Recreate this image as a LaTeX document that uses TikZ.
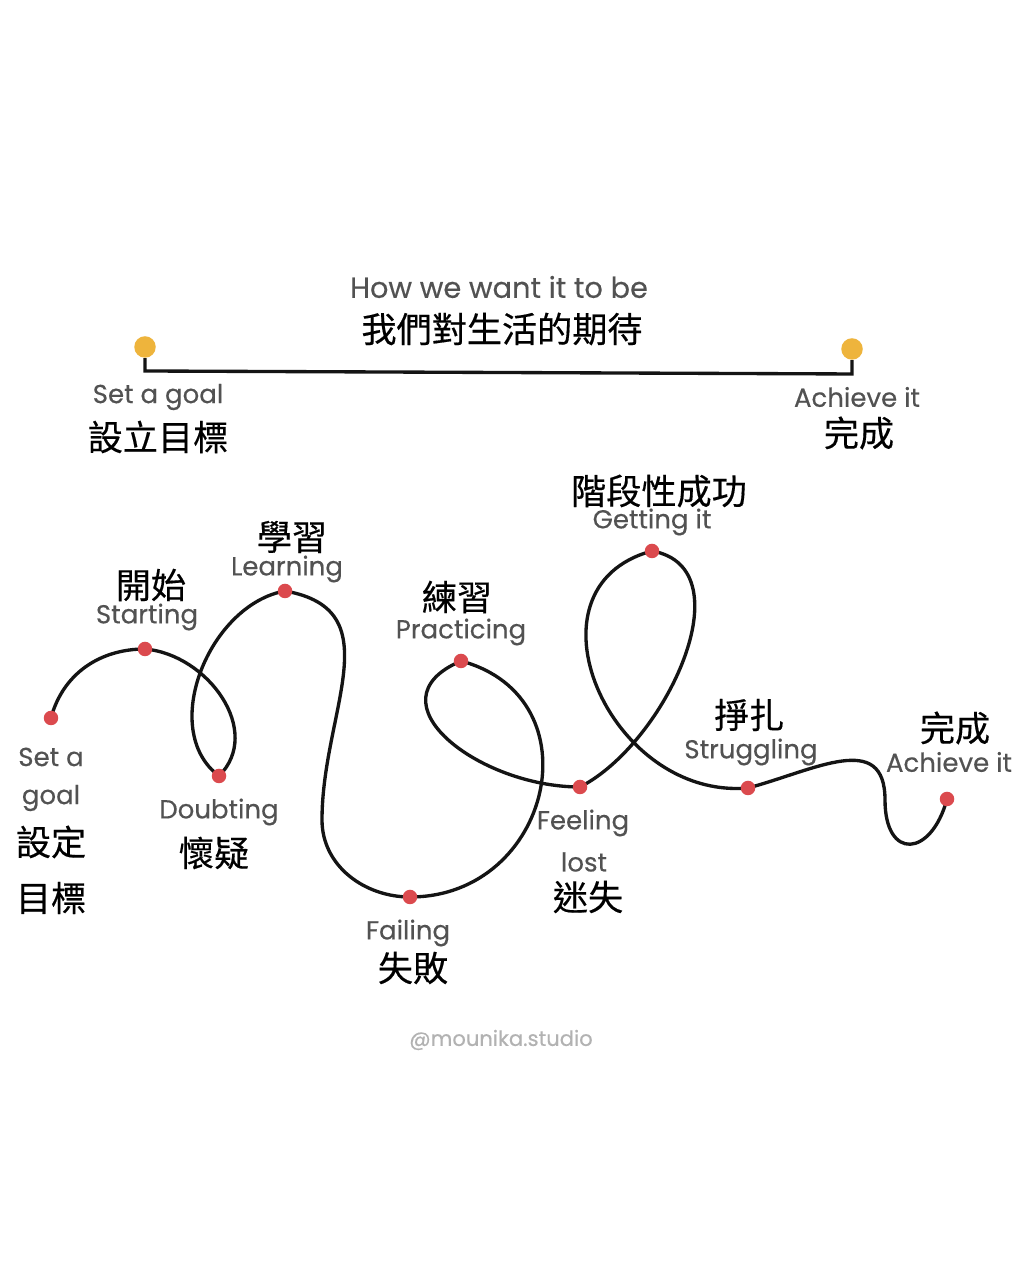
\documentclass[tikz,border=0pt]{standalone}
\usepackage{fontspec}
\setmainfont{Poppins}[FakeBold=0.35]
\newfontfamily\zhfont{Noto Sans CJK TC}[FakeBold=0.4]
\usetikzlibrary{positioning}
\definecolor{dotred}{RGB}{219,74,78}
\definecolor{pinyellow}{RGB}{238,180,60}
\definecolor{engray}{RGB}{82,82,82}
\definecolor{credgray}{RGB}{178,178,178}
\tikzset{
  road/.style={line width=1.9pt, black!92},
  waydot/.style={circle, fill=dotred, minimum size=0.29cm, inner sep=0pt},
  goalpin/.style={circle, fill=pinyellow, minimum size=0.43cm, inner sep=0pt},
  en/.style={font=\fontsize{14.8}{17}\selectfont, text=engray, inner sep=0pt},
  title/.style={en, font=\fontsize{16.4}{19}\selectfont},
  zh/.style={font=\zhfont\fontsize{20}{24}\selectfont, text=black, inner sep=0pt},
  credit/.style={font=\fontsize{12}{14}\selectfont, text=credgray, inner sep=0pt}
}

\begin{document}
\begin{tikzpicture}[x=0.02cm, y=0.02cm]
\fill[white] (0,0) rectangle (1022,1280);
\useasboundingbox (0,0) rectangle (1022,1280);

% how we want it to be
\node[goalpin] (pinL) at (145,933) {};
\node[goalpin] (pinR) at (852,931) {};
\coordinate (lineL) at (145,909);
\coordinate (lineR) at (852,906);
\draw[road] (pinL.south) -- (lineL) -- (lineR) -- (pinR.south);
\node[title] (wantEn) at (499,993) {How we want it to be};
\node[zh] (wantZh) at (502,951) {我們對生活的期待};
\node[en] (setEn) at (158,883) {Set a goal};
\node[zh] (setZh) at (158,843) {設立目標};
\node[en] (achEn) at (857,883) {Achieve it};
\node[zh] (achZh) at (859,847) {完成};

% how it really is
\coordinate (goal) at (51,562);
\coordinate (start) at (145,631);
\coordinate (doubt) at (219,504);
\coordinate (learn) at (285,689);
\coordinate (bend1) at (322,460);
\coordinate (fail) at (410,383);
\coordinate (pract) at (461,619);
\coordinate (lost) at (580,493);
\coordinate (get) at (652,729);
\coordinate (strug) at (748,492);
\coordinate (bend2) at (885,480);
\coordinate (done) at (947,481);
\draw[road] (goal) to[out=75,in=180] (start)
  to[out=-5,in=45,looseness=1.1] (doubt)
  to[out=143,in=190] (learn)
  to[out=-10,in=90,looseness=1.2] (bend1)
  to[out=-90,in=180] (fail)
  to[out=0,in=-15,looseness=1.5] (pract)
  to[out=203,in=180,looseness=1.5] (lost)
  to[out=27,in=-10] (get)
  to[out=195,in=185,looseness=1.4] (strug)
  to[out=15,in=90,looseness=1.3] (bend2)
  to[out=-90,in=-105,looseness=2.5] (done);
\foreach \p in {goal,start,doubt,learn,fail,pract,lost,get,strug,done}
  \node[waydot] (dot-\p) at (\p) {};

\node[en] (goalEn1) at (51,523) {Set a};
\node[en] (goalEn2) at (51,482) {goal};
\node[zh] (goalZh1) at (51,438) {設定};
\node[zh] (goalZh2) at (51,382) {目標};
\node[zh] (startZh) at (151,695) {開始};
\node[en] (startEn) at (147,663) {Starting};
\node[en] (doubtEn) at (219,468) {Doubting};
\node[zh] (doubtZh) at (214,427) {懷疑};
\node[zh] (learnZh) at (292,743) {學習};
\node[en] (learnEn) at (287,711) {Learning};
\node[en] (failEn) at (408,347) {Failing};
\node[zh] (failZh) at (413,312) {失敗};
\node[zh] (practZh) at (457,683) {練習};
\node[en] (practEn) at (461,648) {Practicing};
\node[en] (lostEn1) at (583,457) {Feeling};
\node[en] (lostEn2) at (584,418) {lost};
\node[zh] (lostZh) at (588,383) {迷失};
\node[zh] (getZh) at (659,789) {階段性成功};
\node[en] (getEn) at (652,758) {Getting it};
\node[zh] (strugZh) at (749,565) {掙扎};
\node[en] (strugEn) at (751,528) {Struggling};
\node[zh] (doneZh) at (955,552) {完成};
\node[en] (doneEn) at (949,518) {Achieve it};

\node[credit] (credit) at (501,240) {@mounika.studio};
\end{tikzpicture}
\end{document}
